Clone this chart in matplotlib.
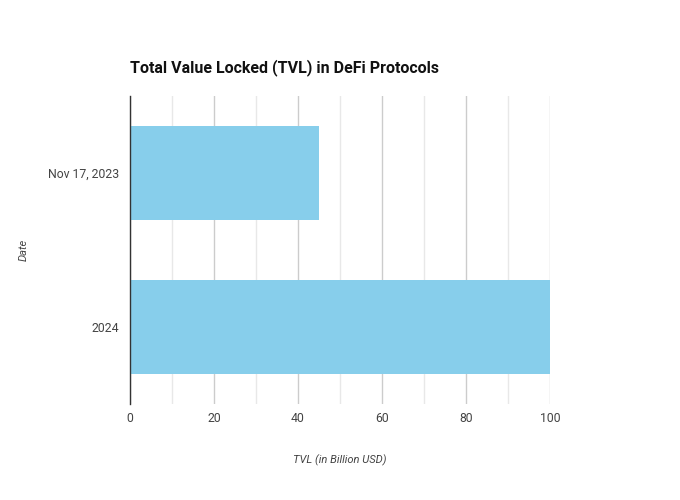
import matplotlib
matplotlib.use("Agg")
import matplotlib.pyplot as plt
from matplotlib.ticker import MultipleLocator

plt.rcParams['font.family'] = ['Roboto', 'DejaVu Sans']

# data
dates = ['2024', 'Nov 17, 2023']
tvl = [100, 45]

fig = plt.figure(figsize=(6.8, 5), dpi=100)
ax = fig.add_axes([130 / 680, 96 / 500, 420 / 680, 308 / 500])

ax.barh(range(len(dates)), tvl, height=0.61, color='#87ceeb', zorder=2)

ax.set_xlim(0, 100)
ax.set_ylim(-0.5, 1.5)
ax.set_yticks(range(len(dates)))
ax.set_yticklabels(dates)

ax.xaxis.set_major_locator(MultipleLocator(20))
ax.xaxis.set_minor_locator(MultipleLocator(10))
ax.grid(axis='x', which='major', color='#cccccc', linewidth=1, zorder=0)
ax.grid(axis='x', which='minor', color='#e8e8e8', linewidth=1, zorder=0)
ax.set_axisbelow(True)

for s in ['top', 'right', 'bottom']:
    ax.spines[s].set_visible(False)
ax.spines['left'].set_color('#333333')
ax.spines['left'].set_linewidth(1)
ax.spines['left'].set_zorder(3)

ax.tick_params(axis='both', which='both', length=0, labelsize=8.8, labelcolor='#444444')
ax.tick_params(axis='x', pad=6)
ax.tick_params(axis='y', pad=8)

ax.set_xlabel('TVL (in Billion USD)', fontsize=8, style='italic', color='#444444', labelpad=21)
ax.set_ylabel('Date', fontsize=8, style='italic', color='#444444', labelpad=14)
ax.set_title('Total Value Locked (TVL) in DeFi Protocols', fontsize=11.5, fontweight='bold',
             loc='left', color='#111111', pad=17)

fig.savefig('out.png', dpi=100)
